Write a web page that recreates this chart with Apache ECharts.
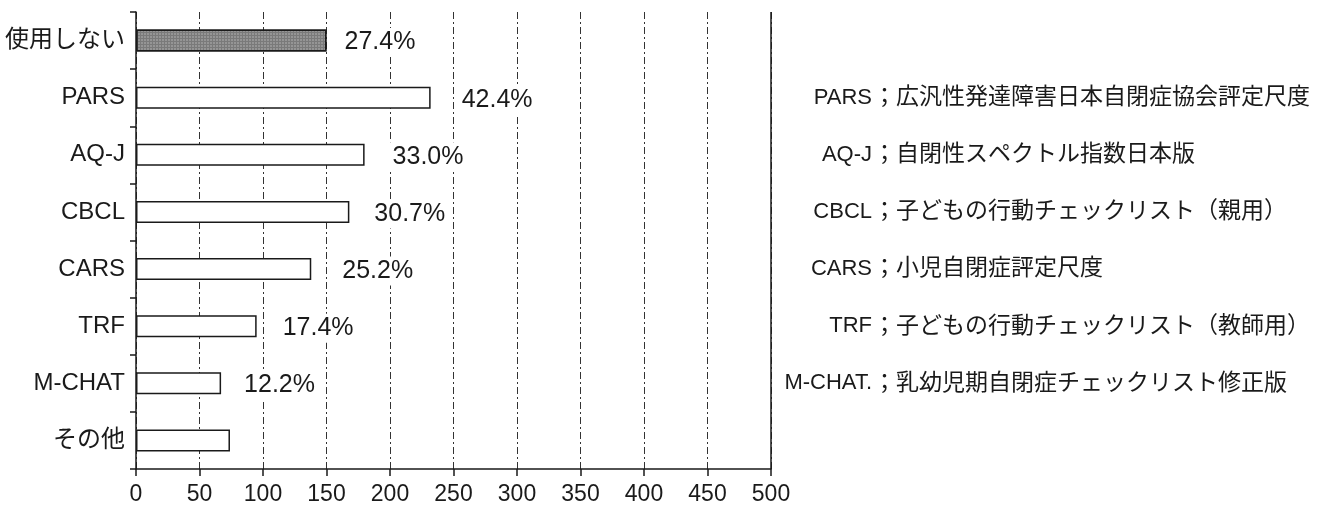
<!DOCTYPE html>
<html>
<head>
<meta charset="utf-8">
<script src="https://cdn.jsdelivr.net/npm/echarts@6/dist/echarts.min.js"></script>
<style>
  html, body { margin: 0; padding: 0; background: #fff; }
  #box { width: 1331px; height: 507px; }
</style>
</head>
<body>
<div id="box"></div>
<script>
// data
var categories = ['使用しない', 'PARS', 'AQ-J', 'CBCL', 'CARS', 'TRF', 'M-CHAT', 'その他'];
var counts = [150, 232, 180, 168, 138, 95, 67, 74];
var percentLabels = ['27.4%', '42.4%', '33.0%', '30.7%', '25.2%', '17.4%', '12.2%', ''];
var xTicks = [0, 50, 100, 150, 200, 250, 300, 350, 400, 450, 500];

// notes on the right side
var noteKeys = ['PARS', 'AQ-J', 'CBCL', 'CARS', 'TRF', 'M-CHAT'];
var noteAbbr = ['PARS', 'AQ-J', 'CBCL', 'CARS', 'TRF', 'M-CHAT.'];
var noteDesc = [
    '広汎性発達障害日本自閉症協会評定尺度',
    '自閉性スペクトル指数日本版',
    '子どもの行動チェックリスト（親用）',
    '小児自閉症評定尺度',
    '子どもの行動チェックリスト（教師用）',
    '乳幼児期自閉症チェックリスト修正版'
];

var FONT = "'Liberation Sans', 'Noto Sans CJK JP', sans-serif";
// gap between bar end and its percent label (the scan is not regular)
var labelGap = [15, 28, 25, 22, 28, 23, 20, 0];

function initChart() {
    var dom = document.getElementById('box');
    var myChart = echarts.init(dom);

    var barData = counts.map(function (v, i) {
        var item = {
            value: v,
            label: {
                show: percentLabels[i] !== '',
                distance: labelGap[i],
                formatter: percentLabels[i]
            }
        };
        if (i === 0) {
            // the shaded bar
            item.itemStyle = {
                color: '#7a7a7a',
                decal: {
                    symbol: 'rect',
                    symbolSize: 0.7,
                    color: 'rgba(255,255,255,0.4)',
                    dashArrayX: [2, 1],
                    dashArrayY: [2, 1]
                }
            };
        }
        return item;
    });

    var option = {
        backgroundColor: '#fff',
        animation: false,
        textStyle: { fontFamily: FONT, color: '#1a1a1a' },
        grid: { left: 136, top: 12, width: 635, height: 457, containLabel: false },
        xAxis: {
            type: 'value',
            min: xTicks[0],
            max: xTicks[xTicks.length - 1],
            interval: xTicks[1] - xTicks[0],
            axisLine: { show: true, lineStyle: { color: '#1a1a1a', width: 1.5 } },
            axisTick: { show: true, length: 7, lineStyle: { color: '#1a1a1a', width: 1.5 } },
            axisLabel: { fontSize: 23, color: '#1a1a1a', margin: 14, fontFamily: FONT },
            splitLine: {
                show: true,
                lineStyle: { color: '#333', width: 1, type: [7, 3, 2, 3] }
            }
        },
        yAxis: {
            type: 'category',
            inverse: true,
            data: categories,
            axisLine: { show: true, lineStyle: { color: '#1a1a1a', width: 1.5 } },
            axisTick: { show: true, length: 6, alignWithLabel: false, lineStyle: { color: '#1a1a1a', width: 1.5 } },
            axisLabel: { fontSize: 24, color: '#1a1a1a', margin: 11, fontFamily: FONT },
            splitLine: { show: false }
        },
        series: [{
            type: 'bar',
            data: barData,
            barWidth: 22,
            itemStyle: { color: '#fff', borderColor: '#1a1a1a', borderWidth: 1.5 },
            label: {
                show: true,
                position: 'right',
                fontSize: 25,
                color: '#1a1a1a',
                fontFamily: FONT,
                backgroundColor: '#fff',
                padding: [2, 3],
                offset: [0, 2]
            },
            markLine: {
                silent: true,
                symbol: 'none',
                label: { show: false },
                lineStyle: { color: '#1a1a1a', width: 1.5, type: 'solid' },
                data: [{ xAxis: xTicks[xTicks.length - 1] }]
            }
        }]
    };
    myChart.setOption(option, true);

    // notes, placed on the rows of their categories
    var graphics = [];
    noteKeys.forEach(function (key, i) {
        var y = myChart.convertToPixel({ yAxisIndex: 0 }, key);
        graphics.push({
            type: 'text', x: 872, y: y,
            style: { text: noteAbbr[i], fontSize: 22, fontFamily: FONT, fill: '#1a1a1a', align: 'right', verticalAlign: 'middle' }
        });
        graphics.push({
            type: 'text', x: 873, y: y,
            style: { text: '；' + noteDesc[i], fontSize: 23, fontFamily: FONT, fill: '#1a1a1a', align: 'left', verticalAlign: 'middle' }
        });
    });
    myChart.setOption({ graphic: graphics });
}

initChart();
</script>
</body>
</html>
